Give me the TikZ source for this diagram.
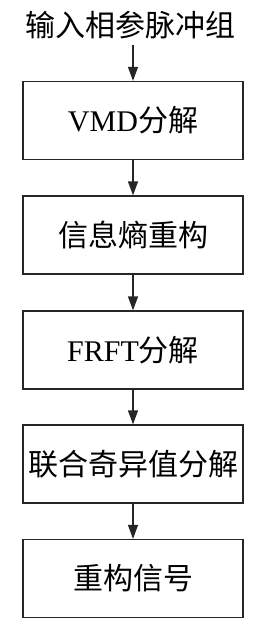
\documentclass[tikz,border=0pt]{standalone}
\usepackage{fontspec}
\setmainfont{Liberation Serif}
\newfontfamily\cjk{Noto Sans CJK SC}
\usetikzlibrary{arrows.meta}
\begin{document}
\begin{tikzpicture}[x=1pt,y=-1pt,
  stepbox/.style={draw=black!85,line width=1.3pt,minimum width=220pt,minimum height=78pt,inner sep=0pt,font=\fontsize{30}{34}\selectfont},
  flow/.style={draw=black!85,line width=1.3pt,-{Triangle[length=14pt,width=10pt]}}]
\useasboundingbox (0,0) rectangle (260,631);
\node[inner sep=0pt,font=\fontsize{30}{34}\selectfont\cjk] (in) at (130,25) {输入相参脉冲组};
\coordinate (s) at (133,45);
\node[stepbox] (b1) at (133,120.5) {VMD{\cjk 分解}};
\node[stepbox] (b2) at (133,235) {\cjk 信息熵重构};
\node[stepbox] (b3) at (133,350) {FRFT{\cjk 分解}};
\node[stepbox] (b4) at (133,464) {\cjk 联合奇异值分解};
\node[stepbox] (b5) at (133,578.5) {\cjk 重构信号};
\draw[flow] (s) -- (b1.north);
\draw[flow] (b1) -- (b2);
\draw[flow] (b2) -- (b3);
\draw[flow] (b3) -- (b4);
\draw[flow] (b4) -- (b5);
\end{tikzpicture}
\end{document}
